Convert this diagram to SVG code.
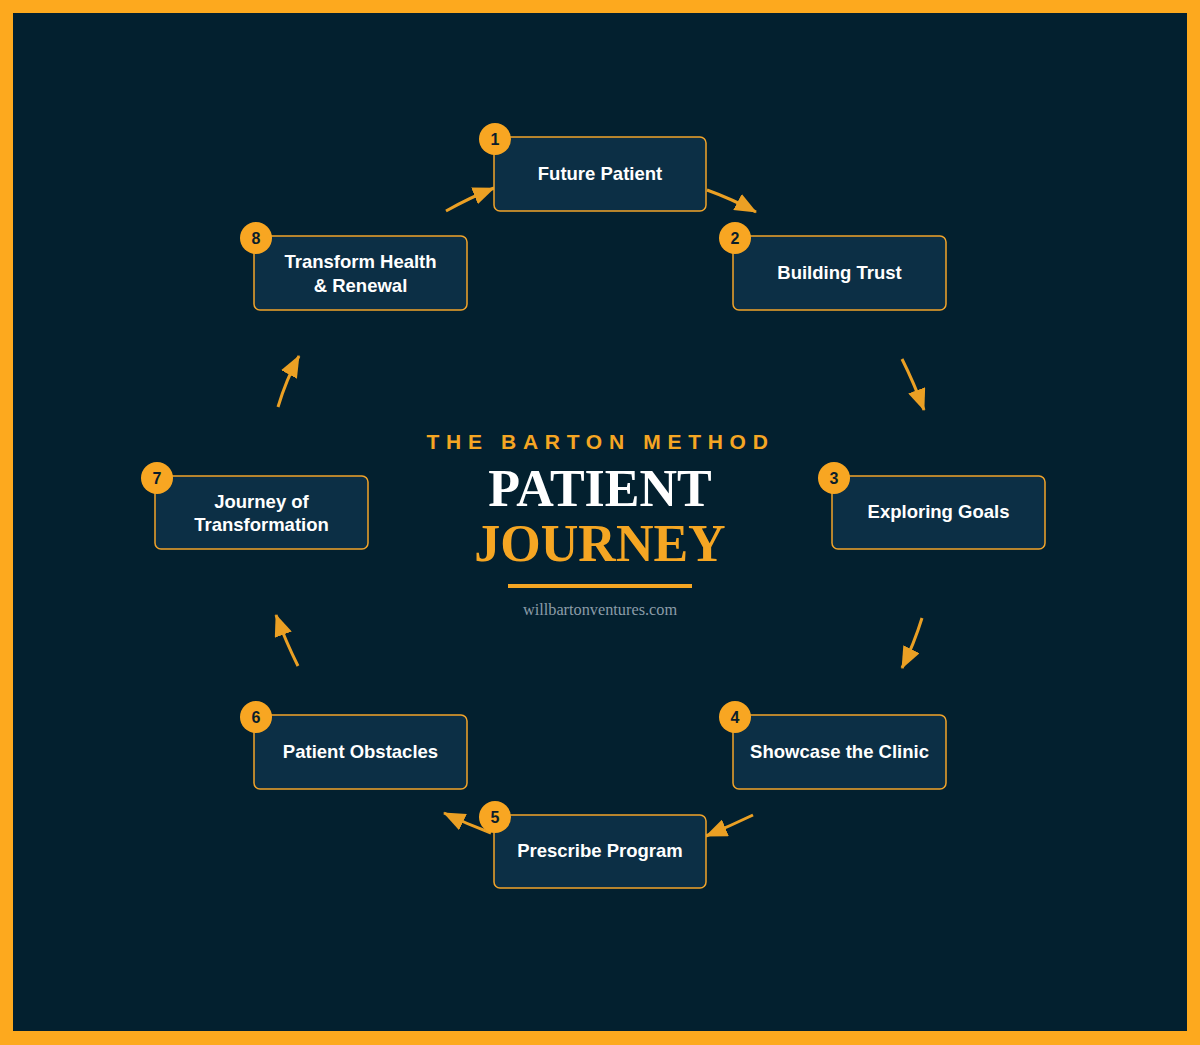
<svg xmlns="http://www.w3.org/2000/svg" width="1200" height="1045" viewBox="0 0 1200 1045">
<style>
.node rect{fill:#0C2F45;stroke:#F2A42A;stroke-width:1.5}
.badge{fill:#F8A622}
.num{font-family:"Liberation Sans",Arial,sans-serif;font-weight:bold;font-size:16px;fill:#0A1E2B;text-anchor:middle}
.lbl{font-family:"Liberation Sans",Arial,sans-serif;font-weight:bold;font-size:18.5px;fill:#FFFFFF;text-anchor:middle}
.conn path{fill:none;stroke:#EBA024;stroke-width:3;marker-end:url(#ah)}
</style>
<defs>
<marker id="ah" markerUnits="userSpaceOnUse" viewBox="0 0 22 18" markerWidth="22" markerHeight="18" refX="21" refY="9" orient="auto">
<path d="M0,0 L22,9 L0,18 z" fill="#EBA024"/>
</marker>
</defs>
<rect x="0" y="0" width="1200" height="1045" fill="#FDA91E"/>
<rect x="13" y="13" width="1174" height="1018" fill="#03202F"/>

<g id="title">
<text x="600.5" y="449" font-family="Liberation Sans,Arial,sans-serif" font-weight="bold" font-size="21" letter-spacing="6.7" fill="#F5A623" text-anchor="middle">THE BARTON METHOD</text>
<text x="600" y="506" font-family="Liberation Serif,Times New Roman,serif" font-weight="bold" font-size="52" fill="#FFFFFF" text-anchor="middle">PATIENT</text>
<text x="600" y="561" font-family="Liberation Serif,Times New Roman,serif" font-weight="bold" font-size="52" fill="#F5A623" text-anchor="middle">JOURNEY</text>
<rect x="508" y="584" width="184" height="4" fill="#F5A623"/>
<text x="600" y="615" font-family="Liberation Serif,Times New Roman,serif" font-size="16.3" fill="#8B9CA8" text-anchor="middle">willbartonventures.com</text>
</g>

<g id="connectors" class="conn">
<path d="M707,190 Q732,199 756,212"/>
<path d="M902,359 Q914,383 924,410"/>
<path d="M922,618 Q914,644 902,668"/>
<path d="M753,815 Q730,826 706,836"/>
<path d="M491,833 Q467,824 444,813"/>
<path d="M298,666 Q286,642 276,615"/>
<path d="M278,407 Q286,380 299,356"/>
<path d="M446,211 Q469,198 494,188"/>
</g>

<g id="node1" class="node">
<rect x="494" y="137" width="212" height="74" rx="6"/>
<text class="lbl" x="600" y="180">Future Patient</text>
<circle class="badge" cx="495" cy="139" r="16"/><text class="num" x="495" y="145">1</text>
</g>
<g id="node2" class="node">
<rect x="733" y="236" width="213" height="74" rx="6"/>
<text class="lbl" x="839.5" y="279">Building Trust</text>
<circle class="badge" cx="735" cy="238" r="16"/><text class="num" x="735" y="244">2</text>
</g>
<g id="node3" class="node">
<rect x="832" y="476" width="213" height="73" rx="6"/>
<text class="lbl" x="938.5" y="518">Exploring Goals</text>
<circle class="badge" cx="834" cy="478" r="16"/><text class="num" x="834" y="484">3</text>
</g>
<g id="node4" class="node">
<rect x="733" y="715" width="213" height="74" rx="6"/>
<text class="lbl" x="839.5" y="758">Showcase the Clinic</text>
<circle class="badge" cx="735" cy="717" r="16"/><text class="num" x="735" y="723">4</text>
</g>
<g id="node5" class="node">
<rect x="494" y="815" width="212" height="73" rx="6"/>
<text class="lbl" x="600" y="857">Prescribe Program</text>
<circle class="badge" cx="495" cy="817" r="16"/><text class="num" x="495" y="823">5</text>
</g>
<g id="node6" class="node">
<rect x="254" y="715" width="213" height="74" rx="6"/>
<text class="lbl" x="360.5" y="758">Patient Obstacles</text>
<circle class="badge" cx="256" cy="717" r="16"/><text class="num" x="256" y="723">6</text>
</g>
<g id="node7" class="node">
<rect x="155" y="476" width="213" height="73" rx="6"/>
<text class="lbl" x="261.5" y="508">Journey of</text>
<text class="lbl" x="261.5" y="531">Transformation</text>
<circle class="badge" cx="157" cy="478" r="16"/><text class="num" x="157" y="484">7</text>
</g>
<g id="node8" class="node">
<rect x="254" y="236" width="213" height="74" rx="6"/>
<text class="lbl" x="360.5" y="268">Transform Health</text>
<text class="lbl" x="360.5" y="292">&amp; Renewal</text>
<circle class="badge" cx="256" cy="238" r="16"/><text class="num" x="256" y="244">8</text>
</g>
</svg>
